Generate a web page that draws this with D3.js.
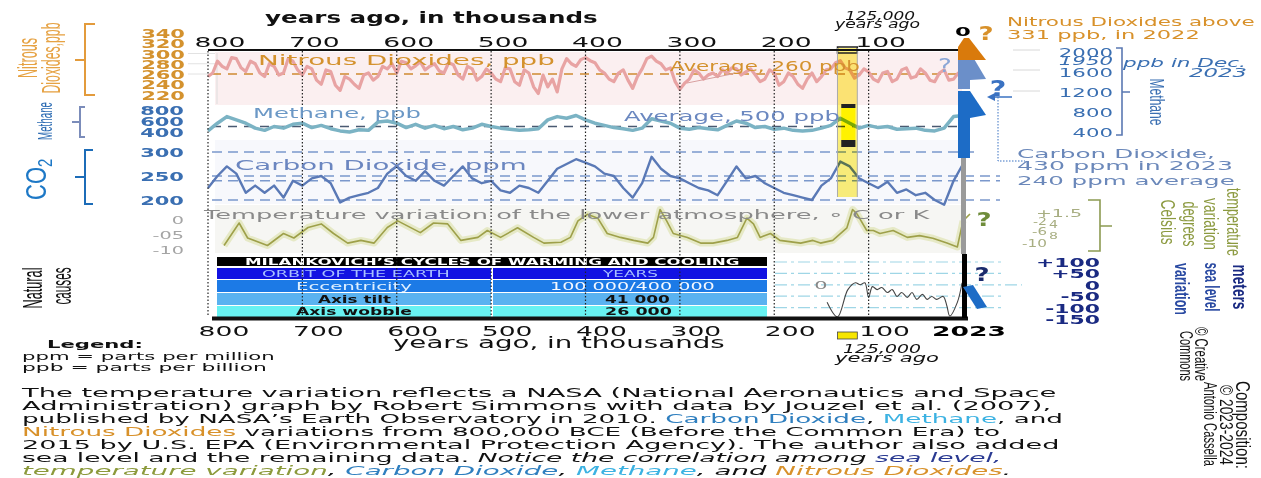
<!DOCTYPE html>
<html><head><meta charset="utf-8">
<script src="https://cdn.jsdelivr.net/npm/d3@7"></script>
<style>body{margin:0;background:#fff;overflow:hidden} svg{display:block}</style>
</head><body><svg id="c" width="1261" height="478"></svg>
<script>
// ---------------- DATA ----------------
const axisTicks = [800,700,600,500,400,300,200,100];
const n2oTicks = [340,320,300,280,260,240,220];
const ch4Ticks = [800,600,400];
const co2Ticks = [300,250,200];
const tempTicks = [0,-5,-10];
const tempTickLabels = ["0","-05","-10"];
const seaTicks = [100,50,0,-50,-100,-150];
const seaTickLabels = ["+100","+50","0","-50","-100","-150"];
const ch4RightTicks = [2000,1600,1200,800,400];
const co2Dashes = [300,250,240,200];
const seaDashes = [100,50,0,-50,-100];
// Nitrous oxide, every 5 000 years from 800 ka to 0 ka
const n2o = [255,262,285,275,270,292,290,272,265,285,280,262,255,280,275,258,262,290,285,268,
             258,275,270,248,240,268,265,238,228,255,250,240,232,258,262,248,255,275,270,280,
             262,285,282,270,276,284,268,275,280,266,262,282,278,258,250,275,270,248,255,270,
             262,250,245,272,270,245,238,268,262,235,222,258,235,250,225,270,290,280,275,288,
             292,286,282,268,262,250,245,262,268,248,232,255,270,290,295,285,280,268,272,245,
             230,242,250,268,262,250,258,262,255,268,262,272,270,258,264,270,258,245,250,268,
             262,238,245,262,255,240,232,250,262,245,255,268,270,282,286,272,268,252,258,270,
             264,250,245,262,265,245,250,268,272,252,255,270,262,248,245,262,268,248,250,262,262];
// methane and CO2, every 10 000 years from 800 ka to 0 ka
const ch4 = [420,560,680,620,560,470,430,500,470,540,
             560,480,520,460,420,400,440,430,580,600,
             560,480,540,470,520,460,500,440,470,540,
             500,470,450,430,440,460,620,680,650,700,
             620,560,520,480,460,430,470,640,600,560,
             470,450,480,460,440,520,600,560,480,500,
             450,470,430,420,430,470,520,650,560,470,
             520,480,500,450,460,470,430,420,470,680,700];
const co2 = [225,250,270,255,215,230,215,230,205,240,
             230,245,250,235,195,205,210,215,225,255,
             270,250,240,260,240,230,250,270,245,235,
             240,220,215,230,225,215,240,265,275,285,
             278,270,255,250,225,205,235,290,265,250,
             245,235,225,220,210,240,270,245,250,235,
             225,215,210,205,200,230,245,280,270,245,
             235,225,238,215,222,210,215,200,190,240,275];
const tempAge = [783,767,758,737,720,709,694,680,667,652,
                 638,624,610,599,575,561,546,532,514,504,
                 490,472,455,444,426,416,408,398,387,377,
                 363,349,334,328,321,314,307,292,278,265,
                 250,239,229,222,215,204,194,172,159,151,
                 138,123,117,112,102,95,88,74,59,46,
                 32,17,6,0];
const tempVal = [-8.5,-1,-6,-8.5,-4.5,-6,-2.5,-1.3,-4.5,-7.7,
                 -6.8,-7.7,-2.5,-0.3,-4.2,-1,-1.3,-6.8,-5.8,-3.5,
                 -5.8,-2.6,-5.8,-7.7,-7.4,-5.8,-0.3,1.9,0.6,-4.5,
                 -5.8,-6.8,-7.7,-5.8,3.5,-0.3,-4.5,-5.8,-7.7,-7.7,
                 -6.8,-5.8,0.6,-1.3,-5.8,-4.5,-6.8,-7.7,-6.8,-7.7,
                 -6.8,-2.6,3.5,1.9,-3.5,-3.5,-4.5,-3.5,-5.8,-5.2,
                 -6.1,-7.7,-9,-0.3];
const seaAge = [144,133,122,114,109,104,100,96,91,86,80,75,70,65,59,54,49,43,38,33,28,21,17,14,6,1];
const seaVal = [-77,-141,-21,9,0,9,-55,-8,-21,-12,-34,-21,-51,-34,-55,-34,-64,-42,-64,-51,-64,-51,-94,-137,-77,9];
const tableTitle = "MILANKOVICH\u2019S CYCLES  OF WARMING AND COOLING";
const tableHead = ["ORBIT OF THE EARTH","YEARS"];
const tableRows = [["Eccentricity","100 000/400 000"],["Axis tilt","41 000"],["Axis wobble","26 000"]];
const paragraph = [
  [["The temperature variation reflects a NASA (National Aeronautics and Space"]],
  [["Administration) graph by Robert Simmons with data by Jouzel et al. (2007),"]],
  [["published by NASA\u2019s Earth Observatory in 2010. "],["Carbon Dioxide","#2f7fbf"],[", "],["Methane","#3cb2e2"],[", and"]],
  [["Nitrous Dioxides","#d8912a"],[" variations from 800,000 BCE (Before the Common Era) to"]],
  [["2015 by U.S. EPA (Environmental Protection Agency). The author also added"]],
  [["sea level and the remaining data. "],["Notice the correlation among ",null,1],["sea level,","#2a3a92",1]],
  [["temperature variation","#8c9a3c",1],[", ",null,1],["Carbon Dioxide","#2f7fbf",1],[", ",null,1],["Methane","#3cb2e2",1],[", and ",null,1],["Nitrous Dioxides","#d8912a",1],[".",null,1]]
];
const paraWidths = [1035,1030,1042,979,1038,980,990];

// ---------------- SETUP ----------------
const S = 1.9;
const svg = d3.select("#c");
const FF = "DejaVu Sans";
const x = d3.scaleLinear().domain([800,0]).range([208,963]);
const yN = d3.scaleLinear().domain([220,340]).range([94.5,33]);
const yM = d3.scaleLinear().domain([400,800]).range([132,110]);
const yC = d3.scaleLinear().domain([200,300]).range([200,152]);
const yT = d3.scaleLinear().domain([0,-10]).range([220,250]);
const yS = d3.scaleLinear().domain([100,-150]).range([262,319]);
const yMr = d3.scaleLinear().domain([400,2000]).range([132,52]);
const ages10 = d3.range(800,-1,-10);
const ages5 = d3.range(800,-1,-5);

function T(g, str, o){
  const t = g.append("text").attr("font-family", o.ff||FF).attr("font-size", o.fs||13)
    .attr("fill", o.c||"#111").attr("font-weight", o.w||"normal").attr("font-style", o.i?"italic":"normal");
  if (Array.isArray(str)) str.forEach(s=>{const sp=t.append("tspan").text(s[0]); if(s[1]) sp.attr("fill",s[1]); if(s[2]) sp.attr("font-style","italic");});
  else t.text(str);
  const nat = t.node().getComputedTextLength();
  const sx = o.wd ? o.wd/nat : (o.sx||S);
  let xx = o.x;
  if (o.a==="end") xx = o.x - nat*sx; else if (o.a==="middle") xx = o.x - nat*sx/2;
  t.attr("transform", `translate(${xx},${o.y}) scale(${sx},1)`);
  return t;
}
function R(g, str, o){
  const t = g.append("text").attr("font-family", o.ff||"Liberation Sans").attr("font-size", o.fs||14)
    .attr("fill", o.c||"#111").attr("font-weight", o.w||"normal").attr("text-anchor","middle")
    .attr("dominant-baseline","central").text(str);
  if (o.len) t.attr("textLength", o.len).attr("lengthAdjust","spacingAndGlyphs");
  t.attr("transform", `translate(${o.x},${o.y}) scale(${o.sx||1.5},1) rotate(${o.rot})`);
  return t;
}

// ---------------- BACKGROUNDS ----------------
const bg = svg.append("g");
bg.append("rect").attr("x",215).attr("y",52).attr("width",747).attr("height",53).attr("fill","#fbeff0");
bg.append("rect").attr("x",215).attr("y",140).attr("width",747).attr("height",64).attr("fill","#f7f8fc");
bg.append("rect").attr("x",215).attr("y",205).attr("width",747).attr("height",48).attr("fill","#f6f6f3");
bg.append("line").attr("x1",217).attr("x2",217).attr("y1",53).attr("y2",104).attr("stroke","#ddd");
[yN(300),yN(280),yN(260)].forEach(yy=>bg.append("line").attr("x1",188).attr("x2",215).attr("y1",yy).attr("y2",yy).attr("stroke","#e2e2e2"));

// dashed reference lines
const dl = svg.append("g").attr("fill","none");
dl.append("line").attr("x1",212).attr("x2",960).attr("y1",yN(260)).attr("y2",yN(260))
  .attr("stroke","#d08a30").attr("stroke-width",1.6).attr("stroke-dasharray","9,7");
dl.append("line").attr("x1",212).attr("x2",960).attr("y1",yM(500)).attr("y2",yM(500))
  .attr("stroke","#4a5a72").attr("stroke-width",1.6).attr("stroke-dasharray","9,7");
co2Dashes.forEach(v=>dl.append("line").attr("x1",212).attr("x2",v===300?975:1000).attr("y1",yC(v)).attr("y2",yC(v))
  .attr("stroke","#7b98cc").attr("stroke-width",1.6).attr("stroke-dasharray","10,6"));
seaDashes.forEach(v=>dl.append("line").attr("x1",775).attr("x2",v===0?1022:1002).attr("y1",yS(v)).attr("y2",yS(v))
  .attr("stroke","#9fd6e6").attr("stroke-width",1.2).attr("stroke-dasharray","12,4,3,4"));

// ---------------- SERIES ----------------
const ser = svg.append("g").attr("fill","none").attr("stroke-linejoin","round");
ser.append("path").datum(n2o).attr("d",d3.line().x((d,i)=>x(ages5[i])).y(d=>yN(d)))
  .attr("stroke","#e8a3a3").attr("stroke-width",3.2);
ser.append("line").attr("x1",687).attr("y1",83).attr("x2",737).attr("y2",73).attr("stroke","#d9a0a0").attr("stroke-width",1);
const line10 = (ys)=>d3.line().x((d,i)=>x(ages10[i])).y(d=>ys(d));
ser.append("path").datum(ch4).attr("d",line10(yM)).attr("stroke","#7bb3c4").attr("stroke-width",3.5);
ser.append("path").datum(co2).attr("d",line10(yC)).attr("stroke","#5a79b6").attr("stroke-width",2.4);
const tLine = d3.line().x((d,i)=>x(tempAge[i])).y(d=>yT(d));
ser.append("path").datum(tempVal).attr("d",tLine).attr("stroke","#e6e9c6").attr("stroke-width",7);
ser.append("path").datum(tempVal).attr("d",tLine).attr("stroke","#9ea04a").attr("stroke-width",1.6);
ser.append("line").attr("x1",963).attr("y1",yT(-0.3)).attr("x2",970).attr("y2",yT(2)).attr("stroke","#9ea04a").attr("stroke-width",1.6);

// yellow band (125,000 years ago)
const band = svg.append("g");
band.append("rect").attr("x",x(133)).attr("y",48).attr("width",x(112)-x(133)).attr("height",149)
  .attr("fill","#fff27a").style("mix-blend-mode","multiply");
band.append("rect").attr("x",x(129)).attr("y",108).attr("width",x(114)-x(129)).attr("height",32)
  .attr("fill","#ffff00").style("mix-blend-mode","multiply");
band.append("rect").attr("x",x(129)).attr("y",104).attr("width",x(114)-x(129)).attr("height",4).attr("fill","#222");
band.append("rect").attr("x",x(129)).attr("y",140).attr("width",x(114)-x(129)).attr("height",7).attr("fill","#222");
band.append("rect").attr("x",x(133)).attr("y",47).attr("width",x(112)-x(133)).attr("height",6).attr("fill","none").attr("stroke","#222").attr("stroke-width",1.5);
band.append("line").attr("x1",x(133)).attr("x2",x(133)).attr("y1",48).attr("y2",197).attr("stroke","#aaa");
band.append("line").attr("x1",x(112)).attr("x2",x(112)).attr("y1",48).attr("y2",197).attr("stroke","#aaa");

// ---------------- TABLE ----------------
const tb = svg.append("g");
const tx0 = 217, tx1 = 767, tsplit = 492;
const rowsY = [[257,9],[268,11],[280,12],[293,12],[306,11]];
const rowFill = ["#000","#1212e2","#1c7ae6","#5ab2f0","#68f2f2"];
rowsY.forEach((r,i)=>tb.append("rect").attr("x",tx0).attr("y",r[0]).attr("width",tx1-tx0).attr("height",r[1]).attr("fill",rowFill[i]));
tb.append("line").attr("x1",tsplit).attr("x2",tsplit).attr("y1",268).attr("y2",317).attr("stroke","#fff").attr("stroke-width",2);
T(tb, tableTitle, {x:245,y:265,wd:495,fs:9.5,w:"bold",c:"#fff"});
T(tb, tableHead[0], {x:262,y:277,wd:188,fs:9.5,c:"#a8c0ff"});
T(tb, tableHead[1], {x:603,y:277,wd:55,fs:9.5,c:"#a8c0ff"});
const rowTxt = [[{x:296,wd:116,c:"#dff0ff"},{x:550,wd:165,c:"#f4f8ff"}],
                [{x:318,wd:73,c:"#111",w:"bold"},{x:605,wd:65,c:"#111",w:"bold"}],
                [{x:296,wd:116,c:"#111",w:"bold"},{x:605,wd:67,c:"#111",w:"bold"}]];
const rowBase = [290,303,315];
tableRows.forEach((r,i)=>{
  T(tb, r[0], Object.assign({y:rowBase[i],fs:10}, rowTxt[i][0]));
  T(tb, r[1], Object.assign({y:rowBase[i],fs:10}, rowTxt[i][1]));
});

// ---------------- SEA LEVEL ----------------
const sea = svg.append("g");
sea.append("path").datum(seaVal).attr("fill","none").attr("stroke","#444").attr("stroke-width",1.1)
  .attr("d", d3.line().x((d,i)=>x(seaAge[i])).y(d=>yS(d)).curve(d3.curveCatmullRom));
T(sea, "0", {x:821,y:yS(0)+4,fs:11,c:"#888",a:"middle"});

// ---------------- GRID / AXES ----------------
const ax = svg.append("g");
axisTicks.forEach(v=>ax.append("line").attr("x1",x(v)).attr("x2",x(v)).attr("y1",51).attr("y2",317)
  .attr("stroke","#222").attr("stroke-width",1.2).attr("stroke-dasharray","1.5,2"));
ax.append("line").attr("x1",x(800)).attr("x2",x(0)).attr("y1",50).attr("y2",50).attr("stroke","#111").attr("stroke-width",2);
ax.append("line").attr("x1",212).attr("x2",968).attr("y1",318.5).attr("y2",318.5).attr("stroke","#111").attr("stroke-width",4);
axisTicks.forEach(v=>T(ax, String(v), {x:x(v)+12,y:47,fs:14,a:"middle",c:"#111"}));
axisTicks.forEach(v=>T(ax, String(v), {x:x(v)+16,y:336,fs:14,a:"middle",c:"#111"}));
T(ax, "2023", {x:x(0)+6,y:336,fs:14,w:"bold",a:"middle",c:"#000"});
T(ax, "0", {x:x(0),y:36,fs:12,w:"bold",a:"middle",c:"#000"});
T(ax, "years ago, in thousands", {x:265,y:23,wd:333,fs:15,w:"bold",c:"#111"});
T(ax, "years ago, in thousands", {x:393,y:348,wd:332,fs:15,c:"#111"});
T(ax, "125,000", {x:845,y:20,wd:70,fs:12,i:1,c:"#111"});
T(ax, "years ago", {x:835,y:28,wd:85,fs:12,i:1,c:"#111"});
T(ax, "125,000", {x:843,y:353,wd:78,fs:12,i:1,c:"#111"});
T(ax, "years ago", {x:835,y:362,wd:104,fs:12,i:1,c:"#111"});
ax.append("rect").attr("x",x(133)).attr("y",332).attr("width",x(112)-x(133)).attr("height",7).attr("fill","#f7e600").attr("stroke","#444").attr("stroke-width",0.8);

// right-end bar
const rb = svg.append("g");
rb.append("rect").attr("x",958).attr("y",52).attr("width",12).attr("height",37).attr("fill","#6b8fc9");
rb.append("polygon").attr("points","970,52 986,79 970,80").attr("fill","#6b8fc9");
rb.append("polygon").attr("points","958,60 958,47 964,38 969,38 986,60").attr("fill","#d97a0c");
rb.append("rect").attr("x",958).attr("y",91).attr("width",12).attr("height",67).attr("fill","#1d6cc6");
rb.append("polygon").attr("points","970,91 986,115 970,118").attr("fill","#1d6cc6");
rb.append("rect").attr("x",961).attr("y",158).attr("width",5).attr("height",96).attr("fill","#9a9a9a");
rb.append("rect").attr("x",962).attr("y",254).attr("width",5).attr("height",64).attr("fill","#000");
rb.append("polygon").attr("points","963,287 973,285 987,307 977,309").attr("fill","#1d6cc6");

// question marks and connectors
const q = svg.append("g");
T(q, "?", {x:986,y:40,fs:20,w:"bold",c:"#d8912a",a:"middle",sx:1.3});
T(q, "?", {x:945,y:72,fs:20,c:"#8aa6d6",a:"middle",sx:1.3});
T(q, "?", {x:998,y:96,fs:22,w:"bold",c:"#3a72c2",a:"middle",sx:1.3});
T(q, "?", {x:984,y:226,fs:20,w:"bold",c:"#6e8c3a",a:"middle",sx:1.3});
T(q, "?", {x:982,y:281,fs:20,w:"bold",c:"#1a2a6c",a:"middle",sx:1.3});
q.append("line").attr("x1",989).attr("x2",1012).attr("y1",97).attr("y2",97).attr("stroke","#3a72c2").attr("stroke-width",1.5);
q.append("polygon").attr("points","987,97 995,93 995,101").attr("fill","#3a72c2");
q.append("polyline").attr("points","998,97 998,161 1025,161").attr("fill","none").attr("stroke","#3a72c2").attr("stroke-width",1).attr("stroke-dasharray","1.5,1.5");
[50,70,91].forEach(yy=>q.append("line").attr("x1",1013).attr("x2",1040).attr("y1",yy).attr("y2",yy).attr("stroke","#d8d8d8"));

// ---------------- LEFT LABELS ----------------
const lf = svg.append("g");
n2oTicks.forEach(v=>T(lf, String(v), {x:185,y:yN(v)+5,fs:12,w:"bold",c:"#d4922e",a:"end",sx:1.75}));
ch4Ticks.forEach(v=>T(lf, String(v), {x:184,y:yM(v)+5,fs:12,w:"bold",c:"#3a6fb2",a:"end",sx:1.75}));
co2Ticks.forEach(v=>T(lf, String(v), {x:184,y:yC(v)+5,fs:12,w:"bold",c:"#3a6fb2",a:"end",sx:1.75}));
tempTicks.forEach((v,i)=>T(lf, tempTickLabels[i], {x:184,y:yT(v)+4,fs:11,c:"#a5a5a5",a:"end",sx:1.75}));
T(lf, "Nitrous Dioxides, ppb", {x:258,y:65,wd:297,fs:14,c:"#d4922e"});
T(lf, "Average, 260 ppb", {x:670,y:71,wd:190,fs:14,c:"#d4922e"});
T(lf, "Methane, ppb", {x:253,y:118,wd:168,fs:14,c:"#6b98c6"});
T(lf, "Average, 500 ppb", {x:624,y:121,wd:216,fs:14,c:"#6b88c0"});
T(lf, "Carbon Dioxide, ppm", {x:235,y:170,wd:292,fs:14,c:"#6b86c0"});
T(lf, "Temperature variation of the lower atmosphere, \u2218 C or K", {x:204,y:219,wd:726,fs:13,c:"#8a8a8a"});

// left rotated titles + brackets
const br = svg.append("g").attr("fill","none").attr("stroke-width",2);
br.append("path").attr("d","M95,24 H85 V95 H95 M85,60 H75").attr("stroke","#e39b3c");
br.append("path").attr("d","M85,107 H80 V137 H85 M80,122 H72").attr("stroke","#7b8cba");
br.append("path").attr("d","M93,150 H85 V204 H93 M85,177 H75").attr("stroke","#1c6cb8");
R(lf, "Nitrous", {x:28,y:58,rot:-90,fs:16,len:40,sx:1.7,c:"#e6a243"});
R(lf, "Dioxides,ppb", {x:52,y:58,rot:-90,fs:16,len:71,sx:1.6,c:"#e6a243"});
R(lf, "Methane", {x:45,y:121,rot:-90,fs:13,len:38,sx:1.6,c:"#2a6ab2"});
const co = lf.append("text").attr("font-family","Liberation Sans").attr("font-size",22).attr("fill","#1d78c6")
  .attr("dominant-baseline","central").attr("transform","translate(36,200) scale(1.3,1) rotate(-90)");
co.append("tspan").text("CO");
co.append("tspan").text("2").attr("font-size",15).attr("dy",7);
R(lf, "Natural", {x:32,y:288,rot:-90,fs:17,len:41,sx:1.6,c:"#111"});
R(lf, "causes", {x:61,y:286,rot:-90,fs:17,len:37,sx:1.6,c:"#111"});

// ---------------- RIGHT LABELS ----------------
const rt = svg.append("g");
T(rt, "Nitrous Dioxides above", {x:1007,y:26,wd:248,fs:12,c:"#d8912a"});
T(rt, "331  ppb, in 2022", {x:1007,y:39,wd:193,fs:12,c:"#d8912a"});
ch4RightTicks.forEach(v=>T(rt, String(v), {x:1113,y:yMr(v)+5,fs:11.5,c:"#3a6fb2",a:"end",sx:1.85}));
T(rt, "1950", {x:1113,y:yMr(1950)+10,fs:11.5,i:1,c:"#3a6fb2",a:"end",sx:1.85});
br.append("path").attr("d","M1116,48 H1122 V135 H1116 M1122,92 H1130").attr("stroke","#5a78b2").attr("stroke-width",1.6);
T(rt, "ppb in Dec.", {x:1123,y:67,wd:123,fs:12,i:1,c:"#3a6fb2"});
T(rt, "2023", {x:1247,y:77,fs:12,i:1,c:"#3a6fb2",a:"end"});
R(rt, "Methane", {x:1156,y:102,rot:90,fs:13,len:47,sx:1.5,c:"#3a6fb2"});
T(rt, "Carbon Dioxide,", {x:1017,y:158,wd:198,fs:12,c:"#6b88ba"});
T(rt, "430 ppm in 2023", {x:1017,y:170,wd:216,fs:12,c:"#6b88ba"});
T(rt, "240 ppm average", {x:1017,y:185,wd:218,fs:12,c:"#6b88ba"});
// temperature right scale labels
const tc = "#a8ae82";
T(rt, "+1.5", {x:1036,y:217,wd:46,fs:10,c:tc});
T(rt, "-2", {x:1033,y:225,wd:14,fs:10,c:tc});
T(rt, "4", {x:1049,y:228,wd:9,fs:10,c:tc});
T(rt, "-6", {x:1032,y:235,wd:15,fs:10,c:tc});
T(rt, "8", {x:1049,y:239,wd:9,fs:9,c:tc});
T(rt, "-10", {x:1022,y:247,wd:25,fs:10,c:tc});
br.append("path").attr("d","M1088,200 H1100 V251 H1088 M1100,226 H1112").attr("stroke","#8c9a52").attr("stroke-width",1.6);
const ol = "#8c9a40";
R(rt, "temperature", {x:1234,y:222,rot:90,fs:13,len:68,sx:1.55,c:ol});
R(rt, "variation", {x:1211,y:224,rot:90,fs:13,len:52,sx:1.55,c:ol});
R(rt, "degrees", {x:1190,y:224,rot:90,fs:13,len:45,sx:1.55,c:ol});
R(rt, "Celsius", {x:1168,y:222,rot:90,fs:13,len:45,sx:1.55,c:ol});
// sea level labels
seaTicks.forEach((v,i)=>T(rt, seaTickLabels[i], {x:1100,y:yS(v)+5,fs:12.5,w:"bold",c:"#1a2a82",a:"end",sx:1.75}));
R(rt, "meters", {x:1240,y:287,rot:90,fs:13,len:45,sx:1.55,c:"#1a2a82",w:"bold"});
R(rt, "sea level", {x:1212,y:287,rot:90,fs:13,len:49,sx:1.55,c:"#2a4aa2",w:"bold"});
R(rt, "variation", {x:1182,y:289,rot:90,fs:13,len:52,sx:1.55,c:"#2a4aa2",w:"bold"});
// credits
R(rt, "\u00a9 Creative", {x:1202,y:354,rot:90,fs:13,len:54,sx:1.45,c:"#111"});
R(rt, "Commons", {x:1187,y:356,rot:90,fs:13,len:50,sx:1.45,c:"#111"});
R(rt, "Composition:", {x:1243,y:425,rot:90,fs:13,len:88,sx:1.55,c:"#111"});
R(rt, "\u00a9 2023-2024", {x:1226,y:425,rot:90,fs:13,len:80,sx:1.4,c:"#111"});
R(rt, "Antonio Cassella", {x:1210,y:424,rot:90,fs:13,len:84,sx:1.4,c:"#111"});

// ---------------- LEGEND & PARAGRAPH ----------------
const lg = svg.append("g");
T(lg, "Legend:", {x:47,y:348,wd:96,fs:10.5,w:"bold",c:"#111"});
T(lg, "ppm  =  parts per million", {x:22,y:360,wd:253,fs:10.5,c:"#111"});
T(lg, "ppb   =  parts per billion", {x:22,y:371,wd:245,fs:10.5,c:"#111"});
paragraph.forEach((ln,i)=>T(lg, ln, {x:22,y:397+i*13,wd:paraWidths[i],fs:12.5,c:"#111"}));
</script></body></html>
